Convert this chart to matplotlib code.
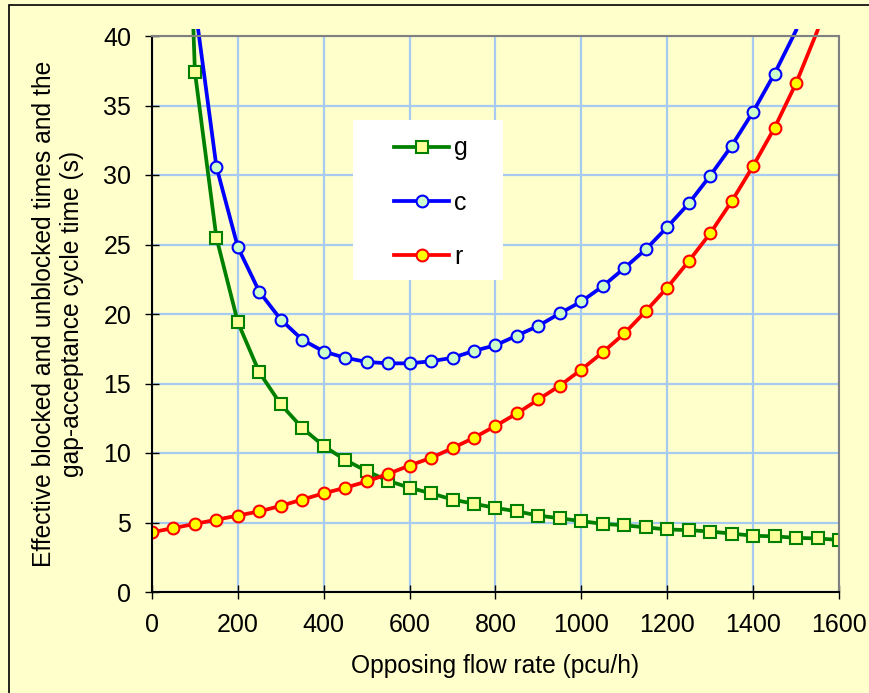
import matplotlib.pyplot as plt
import matplotlib.patches as mpatches

plt.rcParams['font.family'] = ['Liberation Sans', 'DejaVu Sans']

# opposing flow rate (pcu/h)
q_g = [50, 100, 150, 200, 250, 300, 350, 400, 450, 500, 550, 600, 650, 700, 750, 800,
       850, 900, 950, 1000, 1050, 1100, 1150, 1200, 1250, 1300, 1350, 1400, 1450,
       1500, 1550, 1600]
g = [80.0, 37.4, 25.5, 19.4, 15.8, 13.5, 11.8, 10.5, 9.5, 8.7, 8.0, 7.5, 7.1, 6.65,
     6.35, 6.05, 5.8, 5.5, 5.3, 5.1, 4.9, 4.8, 4.65, 4.5, 4.45, 4.35, 4.2, 4.05, 4.0,
     3.9, 3.85, 3.75]

q_c = [100, 150, 200, 250, 300, 350, 400, 450, 500, 550, 600, 650, 700, 750, 800,
       850, 900, 950, 1000, 1050, 1100, 1150, 1200, 1250, 1300, 1350, 1400, 1450, 1500]
c = [42.2, 30.6, 24.8, 21.6, 19.6, 18.15, 17.3, 16.85, 16.55, 16.45, 16.45, 16.6,
     16.85, 17.35, 17.75, 18.45, 19.15, 20.05, 20.9, 22.0, 23.3, 24.65, 26.25, 27.95,
     29.95, 32.1, 34.55, 37.3, 40.4]

q_r = [0, 50, 100, 150, 200, 250, 300, 350, 400, 450, 500, 550, 600, 650, 700, 750,
       800, 850, 900, 950, 1000, 1050, 1100, 1150, 1200, 1250, 1300, 1350, 1400,
       1450, 1500, 1550]
r = [4.3, 4.6, 4.9, 5.2, 5.5, 5.8, 6.2, 6.65, 7.1, 7.5, 7.95, 8.5, 9.1, 9.65, 10.35,
     11.1, 11.95, 12.85, 13.85, 14.85, 16.0, 17.25, 18.6, 20.2, 21.9, 23.8, 25.8,
     28.1, 30.65, 33.4, 36.6, 40.4]

bg = '#FFFFCC'
fig = plt.figure(figsize=(8.7, 6.93), dpi=100, facecolor=bg)
ax = fig.add_axes([152/870, 1-592/693, 687/870, 556/693], facecolor=bg)

# outer frame (only top/left edges are inside the picture)
fig.patches.append(mpatches.Rectangle((9/870, -0.1), 1.2, 1 - 5/693 + 0.1,
                                      transform=fig.transFigure, fill=False,
                                      edgecolor='black', lw=1.2))

ax.grid(True, color='#A6CAF0', lw=1.6)
ax.set_axisbelow(True)

clip = mpatches.Rectangle((0, 0), 1, 1.012, transform=ax.transAxes, visible=False)
ax.add_patch(clip)

ymax = 40


def inside(vals):
    # markers only for points within the axis range
    return [i for i, v in enumerate(vals) if v <= ymax]


lw = 2.7
ms = 8.5
l1, = ax.plot(q_g, g, '-s', color='#008000', lw=lw, ms=ms, mfc='#FFFF99',
              mec='#008000', mew=1.5, label='g', markevery=inside(g))
l2, = ax.plot(q_c, c, '-o', color='#0000FF', lw=lw, ms=ms, mfc='#CCFFCC',
              mec='#0000FF', mew=1.5, label='c', markevery=inside(c))
l3, = ax.plot(q_r, r, '-o', color='#FF0000', lw=lw, ms=ms, mfc='#FFFF00',
              mec='#FF0000', mew=1.5, label='r', markevery=inside(r))
for ln in (l1, l2, l3):
    ln.set_clip_path(clip)

ax.set_xlim(0, 1600)
ax.set_ylim(0, ymax)
ax.set_xticks(range(0, 1601, 200))
ax.set_yticks(range(0, 41, 5))
ax.tick_params(direction='inout', length=10, width=1, labelsize=18)
ax.tick_params(axis='x', pad=10)
ax.tick_params(axis='y', pad=10)
ax.spines['left'].set_color('black')
ax.spines['bottom'].set_color('black')
ax.spines['top'].set_color('#808080')
ax.spines['right'].set_color('#808080')
for s in ax.spines.values():
    s.set_linewidth(1.5)

ax.set_xlabel('Opposing flow rate (pcu/h)', fontsize=17.7, labelpad=12)
ax.set_ylabel('Effective blocked and unblocked times and the\ngap-acceptance cycle time (s)',
              fontsize=17.7, labelpad=14, linespacing=1.2)

# legend box
box = mpatches.Rectangle((353/870, 1-280/693), 150/870, 160/693,
                         transform=fig.transFigure, facecolor='white',
                         edgecolor='none', zorder=4)
ax.add_patch(box)
leg = ax.legend(handles=[l1, l2, l3], loc='upper left',
                bbox_to_anchor=(382/870, 1-124/693), bbox_transform=fig.transFigure,
                frameon=False, fontsize=18, handlelength=2.2, handletextpad=0.2,
                labelspacing=1.2, borderpad=0)
leg.set_zorder(5)

fig.savefig('out.png', dpi=100, facecolor=bg)
